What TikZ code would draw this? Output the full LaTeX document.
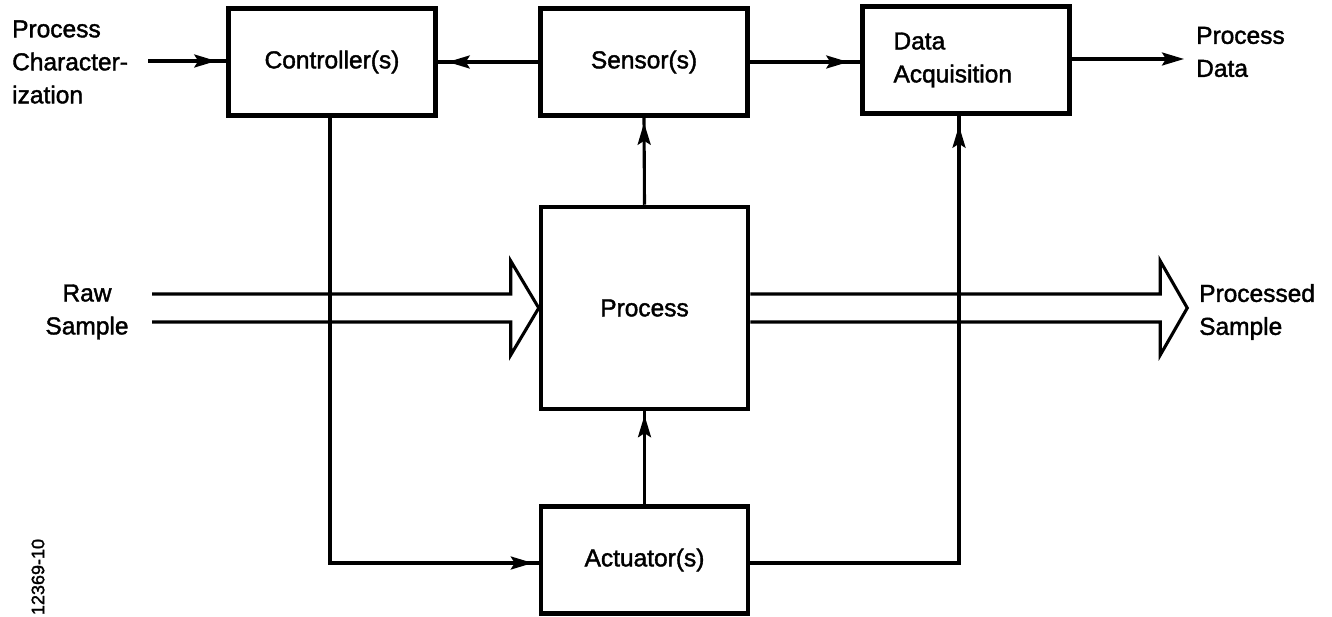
\documentclass[tikz,border=0pt]{standalone}
\usepackage{fontspec}
\setmainfont{Liberation Sans}[FakeBold=1.6]
\usetikzlibrary{arrows.meta,calc,decorations.markings}

\begin{document}
\begin{tikzpicture}[x=1pt,y=-1pt,
  font=\fontsize{24.5}{33}\selectfont,
  blk/.style={draw, line width=4.5pt, minimum width=207pt, minimum height=107pt,
    inner sep=0pt, align=center},
  wire/.style={line width=3.1pt},
  tipnear/.style={postaction={decorate}, decoration={markings,
    mark=at position -#1 with {\arrow{Stealth[length=22pt,width=13pt,inset=4pt]}}}},
  tipnear/.default=10pt,
  tipend/.style={-{Stealth[length=22pt,width=13pt,inset=4pt]}},
  lbl/.style={inner sep=0pt, align=left},
  hollow/.style={line width=3.1pt, line join=miter}]

\useasboundingbox (0,0) rectangle (1332,617);

% blocks
\node[blk] (ctrl) at (332,62) {Controller(s)};
\node[blk] (sens) at (644,62) {Sensor(s)};
\node[blk, text width=145pt, inner xsep=31pt, align=left] (daq) at (966,60) {Data\\Acquisition};
\node[blk, minimum height=202pt] (proc) at (644.5,308) {Process};
\node[blk] (act) at (644.5,560) {Actuator(s)};

% free labels
\node[lbl, anchor=west] (pcin) at (12,62) {Process\\Character-\\ization};
\node[lbl, align=center] (raw) at (87,312) {Raw\\Sample};
\node[lbl, anchor=west] (outs) at (1199,312) {Processed\\Sample};
\node[lbl, anchor=west] (pdata) at (1196,52) {Process\\Data};
\node[rotate=90, inner sep=0pt, font=\fontsize{18}{20}\selectfont] (code) at (38,577) {12369-10};

% free ends
\coordinate (pcStart) at (148,61);
\coordinate (pdEnd) at (1184,59);
\coordinate (rawA) at (152,294);
\coordinate (rawB) at (152,322);

% signal connectors
\draw[wire, tipnear] (pcStart) -- (ctrl.west |- pcStart);
\draw[wire, tipnear] (sens.west) -- (ctrl.east);
\draw[wire, tipnear=12pt] (sens.east) -- (sens.east -| daq.west);
\draw[wire, tipend] (daq.east |- pdEnd) -- (pdEnd);
\draw[wire, tipnear=5pt] (proc.north) -- (sens.south);
\draw[wire, tipnear=4pt] (act.north) -- (proc.south);
\draw[wire, tipnear=6pt] ([xshift=-2pt]ctrl.south) |- ([yshift=-3pt]act.west);
\draw[wire, tipnear=10pt] ([yshift=-3pt]act.east) -| ([xshift=-7pt]daq.south);

% material flow: raw sample in
\draw[hollow] (rawA) -- ($(proc.west)+(-28,-14)$) -- ($(proc.west)+(-28,-47)$)
  -- (proc.west) -- ($(proc.west)+(-28,47)$) -- ($(proc.west)+(-28,14)$) -- (rawB);

% material flow: processed sample out
\draw[hollow] ($(proc.east)+(0,-14)$) -- ($(proc.east)+(410,-14)$)
  -- ($(proc.east)+(410,-47)$) -- ($(proc.east)+(437,0)$) -- ($(proc.east)+(410,47)$)
  -- ($(proc.east)+(410,14)$) -- ($(proc.east)+(0,14)$);

\end{tikzpicture}
\end{document}
